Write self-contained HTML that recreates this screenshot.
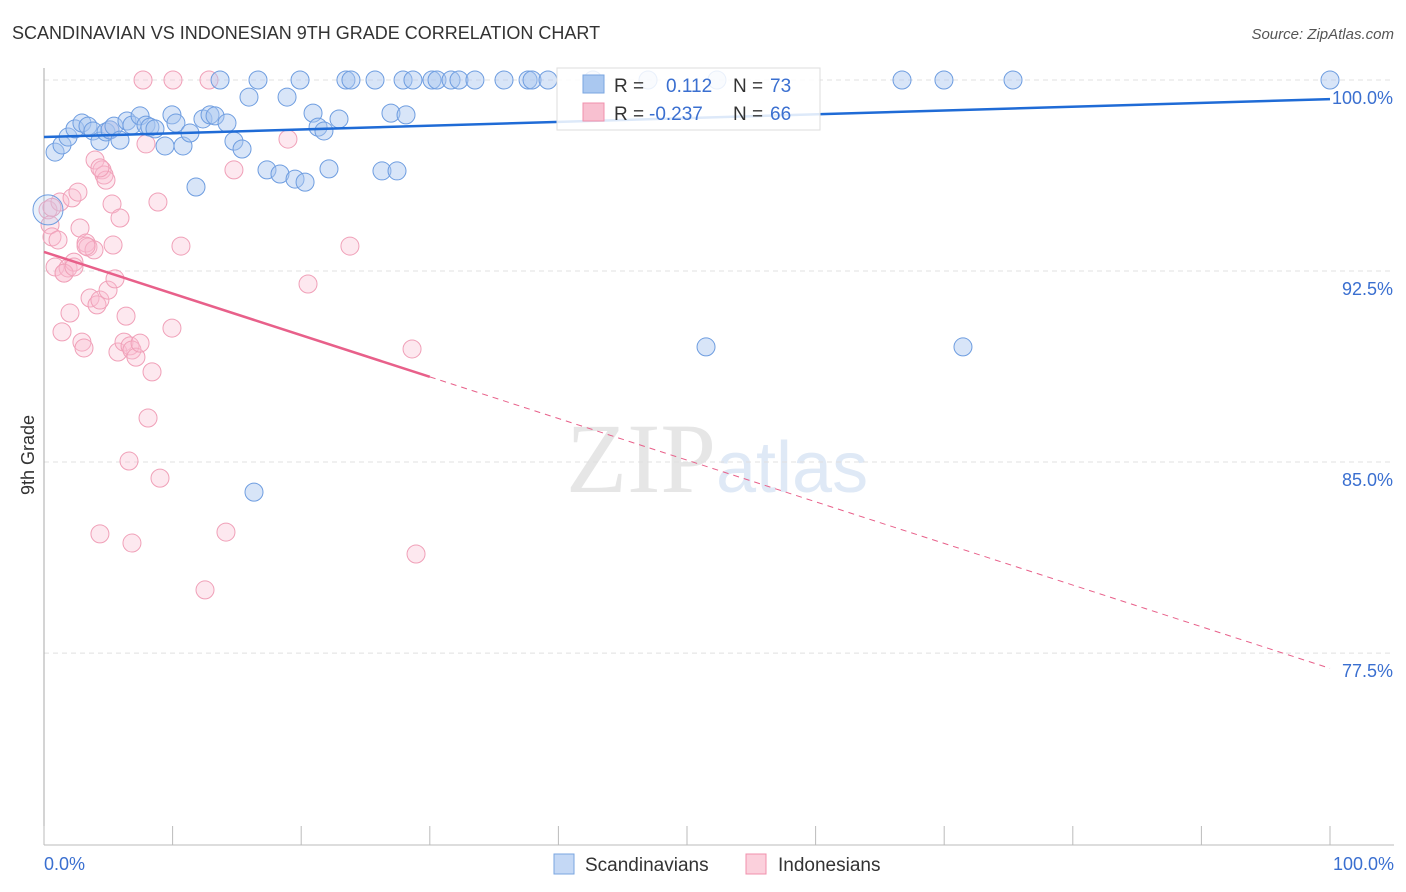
<!DOCTYPE html>
<html><head><meta charset="utf-8"><style>
body{margin:0;background:#fff;font-family:"Liberation Sans",sans-serif;}
svg{display:block}
</style></head><body>
<svg id="c" width="1406" height="892">
<text x="12" y="39" font-size="18" fill="#333">SCANDINAVIAN VS INDONESIAN 9TH GRADE CORRELATION CHART</text>
<text x="1394" y="39" font-size="15" fill="#555" font-style="italic" text-anchor="end">Source: ZipAtlas.com</text>
<text x="716" y="492" font-size="100" fill="#e6e6e6" text-anchor="end" font-family="Liberation Serif">ZIP</text>
<text x="716" y="492" font-size="72" fill="#dfe9f6">atlas</text>
<text x="34" y="455" font-size="18" fill="#333" text-anchor="middle" transform="rotate(-90 34 455)">9th Grade</text>
<g id="grid"></g><g id="pts"></g><g id="lines"></g>
<g>
<rect x="557" y="68" width="263" height="62" fill="#fff" fill-opacity="0.85" stroke="#ddd"/>
<rect x="583" y="75" width="21" height="18" fill="#aac8f0" stroke="#7aa6e0"/>
<rect x="583" y="103" width="21" height="18" fill="#f8c0d0" stroke="#f090ac"/>
<text x="614" y="92" font-size="19" fill="#333">R = </text><text x="666" y="92" font-size="19" fill="#3a6fd0">0.112</text>
<text x="733" y="92" font-size="19" fill="#333">N = </text><text x="770" y="92" font-size="19" fill="#3a6fd0">73</text>
<text x="614" y="120" font-size="19" fill="#333">R = </text><text x="649" y="120" font-size="19" fill="#3a6fd0">-0.237</text>
<text x="733" y="120" font-size="19" fill="#333">N = </text><text x="770" y="120" font-size="19" fill="#3a6fd0">66</text>
</g>
<g>
<rect x="554" y="854" width="20" height="20" fill="#c4d8f5" stroke="#7aa6e0"/>
<text x="585" y="871" font-size="19" fill="#333">Scandinavians</text>
<rect x="746" y="854" width="20" height="20" fill="#fbd0dc" stroke="#f090ac"/>
<text x="778" y="871" font-size="19" fill="#333">Indonesians</text>
</g>
</svg>
<script>
const blueX=[0.86,1.4,1.87,2.41,2.95,3.42,3.81,4.35,4.82,5.13,5.44,5.91,6.45,6.84,7.47,7.93,8.24,8.63,9.41,9.95,10.26,10.81,11.35,11.82,12.36,12.91,13.3,13.69,14.23,14.77,15.4,15.94,16.64,17.34,18.35,18.9,19.52,19.91,20.3,20.92,21.31,21.77,22.16,22.94,23.48,23.87,25.74,26.28,26.98,27.45,27.92,28.15,28.69,30.17,30.56,31.65,32.27,33.51,35.77,37.64,37.95,39.19,42.69,46.97,52.33,66.72,69.98,75.35,100,51.48,71.46,16.33,0.31];
const blueY=[97.17,97.45,97.76,98.08,98.31,98.19,98.0,97.6,97.96,98.04,98.19,97.64,98.39,98.23,98.59,98.23,98.15,98.08,97.41,98.63,98.31,97.41,97.92,95.8,98.47,98.63,98.59,100,98.31,97.6,97.29,99.33,100,96.47,96.31,99.33,96.11,100,95.99,98.7,98.15,98.0,96.51,98.47,100,100,100,96.43,98.7,96.43,100,98.63,100,100,100,100,100,100,100,100,100,100,100,100,100,100,100,100,100,89.52,89.52,83.82,94.9];
const pinkX=[7.7,10.03,12.83,0.31,0.47,0.62,0.86,1.09,1.24,1.4,1.56,1.87,2.02,2.18,2.33,2.64,2.8,2.95,3.11,3.27,3.42,3.58,3.89,3.97,4.12,4.35,4.51,4.67,4.82,4.98,5.13,5.29,5.37,5.52,5.75,5.91,6.22,6.38,6.69,6.84,7.15,7.47,7.93,8.4,8.09,8.86,9.02,9.95,10.65,12.52,14.15,14.77,18.97,20.53,23.79,28.62,28.93,4.35,6.84,6.61,4.35,1.56,2.33,3.27,0.62];
const pinkY=[100,100,100,94.9,94.31,93.84,92.66,93.72,95.21,90.11,92.42,92.62,90.85,95.37,92.85,95.6,94.19,89.71,89.48,93.6,93.44,91.44,93.33,96.86,91.17,91.36,96.47,96.27,96.07,91.75,98.04,95.13,93.52,92.19,89.32,94.58,89.71,90.73,89.56,89.4,89.12,89.67,97.49,88.54,86.73,95.21,84.37,90.26,93.48,79.98,82.25,96.47,97.68,91.99,93.48,89.44,81.39,82.18,81.82,85.04,96.55,92.42,92.66,93.48,95.0];
const yTicks=[100,92.5,85,77.5];
const yLabels=["100.0%","92.5%","85.0%","77.5%"];
const blueFit=[97.76,99.25];
const pinkFit=[93.25,76.9];
const NS="http://www.w3.org/2000/svg";
const X=v=>44+v*12.86;
const Y=v=>80+(100-v)*25.47;
function mk(t,a,p){const e=document.createElementNS(NS,t);for(const k in a)e.setAttribute(k,a[k]);p.appendChild(e);return e;}
const g=document.getElementById('grid');
yTicks.forEach((t,i)=>{
 const l=mk('line',{x1:44,x2:1394,y1:Y(t),y2:Y(t),stroke:'#e0e0e0','stroke-dasharray':'5,4'},g);
 
 
 const tx=mk('text',{x:1393,y:Y(t)+24,'font-size':18,fill:'#3a6fd0','text-anchor':'end'},g);
 tx.textContent=yLabels[i];
 
 
});
mk('line',{x1:44,x2:44,y1:68,y2:845,stroke:'#aaa'},g);
mk('line',{x1:44,x2:1394,y1:845,y2:845,stroke:'#bbb'},g);
for(let i=0;i<=10;i++){mk('line',{x1:X(i*10),x2:X(i*10),y1:826,y2:845,stroke:'#bbb'},g);}
const xl=mk('text',{x:44,y:870,'font-size':18,fill:'#3a6fd0'},g);xl.textContent='0.0%';


const xr=mk('text',{x:1394,y:870,'font-size':18,fill:'#3a6fd0','text-anchor':'end'},g);xr.textContent='100.0%';


const p=document.getElementById('pts');
pinkX.forEach((v,i)=>{const c=mk('circle',{cx:X(v),cy:Y(pinkY[i]),r:9,fill:'#f8bcd0','fill-opacity':0.35,stroke:'#f0a0b8','stroke-width':1},p);
 
 });
blueX.forEach((v,i)=>{const c=mk('circle',{cx:X(v),cy:Y(blueY[i]),r:i==blueX.length-1?15:9,fill:'#a8c6ef','fill-opacity':i==blueX.length-1?0.25:0.45,stroke:'#6e9de0','stroke-width':1},p);
 
 });
const L=document.getElementById('lines');
const bl=mk('line',{x1:X(0),y1:Y(blueFit[0]),x2:X(100),y2:Y(blueFit[1]),stroke:'#1f6bd6','stroke-width':2.5},L);


const pm=v=>pinkFit[0]+(pinkFit[1]-pinkFit[0])*v/100;
const ps=mk('line',{x1:X(0),y1:Y(pm(0)),x2:X(30),y2:Y(pm(30)),stroke:'#e8608a','stroke-width':2.5},L);


const pd=mk('line',{x1:X(30),y1:Y(pm(30)),x2:X(100),y2:Y(pm(100)),stroke:'#e8608a','stroke-width':1,'stroke-dasharray':'6,5'},L);


</script>
</body></html>
